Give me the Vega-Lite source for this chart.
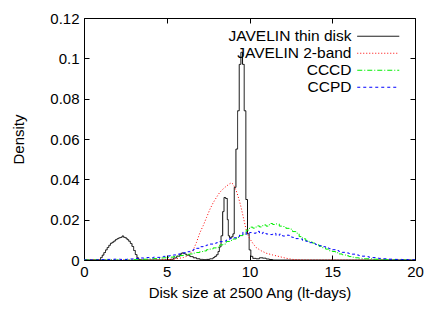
{
"$schema": "https://vega.github.io/schema/vega-lite/v6.json",
"width": 331, "height": 242,
"autosize": {"type": "none"},
"padding": {"left": 84, "top": 18, "right": 28, "bottom": 50},
"background": "white",
"datasets": {
"thin": [
{"s":"JAVELIN thin disk","x":0,"y":0},{"s":"JAVELIN thin disk","x":0.9,"y":0},{"s":"JAVELIN thin disk","x":1.0,"y":0.0012},{"s":"JAVELIN thin disk","x":1.1,"y":0.0024},{"s":"JAVELIN thin disk","x":1.2,"y":0.0037},{"s":"JAVELIN thin disk","x":1.3,"y":0.005},{"s":"JAVELIN thin disk","x":1.4,"y":0.0062},{"s":"JAVELIN thin disk","x":1.5,"y":0.0073},{"s":"JAVELIN thin disk","x":1.6,"y":0.0083},{"s":"JAVELIN thin disk","x":1.7,"y":0.0088},{"s":"JAVELIN thin disk","x":1.8,"y":0.0094},{"s":"JAVELIN thin disk","x":1.9,"y":0.0101},{"s":"JAVELIN thin disk","x":2.0,"y":0.0106},{"s":"JAVELIN thin disk","x":2.1,"y":0.011},{"s":"JAVELIN thin disk","x":2.2,"y":0.0112},{"s":"JAVELIN thin disk","x":2.3,"y":0.0119},{"s":"JAVELIN thin disk","x":2.4,"y":0.0112},{"s":"JAVELIN thin disk","x":2.5,"y":0.0109},{"s":"JAVELIN thin disk","x":2.6,"y":0.0101},{"s":"JAVELIN thin disk","x":2.7,"y":0.0093},{"s":"JAVELIN thin disk","x":2.8,"y":0.0082},{"s":"JAVELIN thin disk","x":2.9,"y":0.0067},{"s":"JAVELIN thin disk","x":3.0,"y":0.0047},{"s":"JAVELIN thin disk","x":3.1,"y":0.0027},{"s":"JAVELIN thin disk","x":3.2,"y":0.0011},{"s":"JAVELIN thin disk","x":3.3,"y":0.0003},{"s":"JAVELIN thin disk","x":3.4,"y":0},{"s":"JAVELIN thin disk","x":5.1,"y":0},{"s":"JAVELIN thin disk","x":5.2,"y":0.0003},{"s":"JAVELIN thin disk","x":5.4,"y":0.001},{"s":"JAVELIN thin disk","x":5.6,"y":0.0019},{"s":"JAVELIN thin disk","x":5.8,"y":0.0029},{"s":"JAVELIN thin disk","x":5.9,"y":0.0035},{"s":"JAVELIN thin disk","x":6.0,"y":0.0033},{"s":"JAVELIN thin disk","x":6.1,"y":0.0029},{"s":"JAVELIN thin disk","x":6.2,"y":0.0024},{"s":"JAVELIN thin disk","x":6.4,"y":0.0017},{"s":"JAVELIN thin disk","x":6.6,"y":0.0011},{"s":"JAVELIN thin disk","x":6.8,"y":0.0006},{"s":"JAVELIN thin disk","x":7.0,"y":0.0003},{"s":"JAVELIN thin disk","x":7.2,"y":0.0002},{"s":"JAVELIN thin disk","x":7.4,"y":0.0003},{"s":"JAVELIN thin disk","x":7.6,"y":0.0006},{"s":"JAVELIN thin disk","x":7.8,"y":0.0012},{"s":"JAVELIN thin disk","x":7.9,"y":0.0018},{"s":"JAVELIN thin disk","x":8.0,"y":0.0026},{"s":"JAVELIN thin disk","x":8.1,"y":0.0042},{"s":"JAVELIN thin disk","x":8.18,"y":0.0065},{"s":"JAVELIN thin disk","x":8.28,"y":0.012},{"s":"JAVELIN thin disk","x":8.38,"y":0.024},{"s":"JAVELIN thin disk","x":8.46,"y":0.031},{"s":"JAVELIN thin disk","x":8.56,"y":0.0305},{"s":"JAVELIN thin disk","x":8.66,"y":0.02},{"s":"JAVELIN thin disk","x":8.72,"y":0.012},{"s":"JAVELIN thin disk","x":8.8,"y":0.011},{"s":"JAVELIN thin disk","x":8.9,"y":0.0115},{"s":"JAVELIN thin disk","x":9.0,"y":0.013},{"s":"JAVELIN thin disk","x":9.08,"y":0.036},{"s":"JAVELIN thin disk","x":9.18,"y":0.055},{"s":"JAVELIN thin disk","x":9.28,"y":0.074},{"s":"JAVELIN thin disk","x":9.38,"y":0.097},{"s":"JAVELIN thin disk","x":9.48,"y":0.103},{"s":"JAVELIN thin disk","x":9.58,"y":0.097},{"s":"JAVELIN thin disk","x":9.68,"y":0.074},{"s":"JAVELIN thin disk","x":9.78,"y":0.03},{"s":"JAVELIN thin disk","x":9.88,"y":0.013},{"s":"JAVELIN thin disk","x":9.98,"y":0.005},{"s":"JAVELIN thin disk","x":10.08,"y":0.0018},{"s":"JAVELIN thin disk","x":10.2,"y":0.0008},{"s":"JAVELIN thin disk","x":10.4,"y":0.0006},{"s":"JAVELIN thin disk","x":10.6,"y":0.0011},{"s":"JAVELIN thin disk","x":10.8,"y":0.0009},{"s":"JAVELIN thin disk","x":11.0,"y":0.0005},{"s":"JAVELIN thin disk","x":11.2,"y":0.0002},{"s":"JAVELIN thin disk","x":11.4,"y":0},{"s":"JAVELIN thin disk","x":20,"y":0}
],
"band": [
{"s":"JAVELIN 2-band","x":0,"y":0},{"s":"JAVELIN 2-band","x":4.5,"y":0},{"s":"JAVELIN 2-band","x":5.0,"y":0.0002},{"s":"JAVELIN 2-band","x":5.5,"y":0.0005},{"s":"JAVELIN 2-band","x":6.0,"y":0.0012},{"s":"JAVELIN 2-band","x":6.3,"y":0.0022},{"s":"JAVELIN 2-band","x":6.6,"y":0.005},{"s":"JAVELIN 2-band","x":6.8,"y":0.0088},{"s":"JAVELIN 2-band","x":7.0,"y":0.0135},{"s":"JAVELIN 2-band","x":7.2,"y":0.017},{"s":"JAVELIN 2-band","x":7.4,"y":0.021},{"s":"JAVELIN 2-band","x":7.6,"y":0.025},{"s":"JAVELIN 2-band","x":7.8,"y":0.0283},{"s":"JAVELIN 2-band","x":8.0,"y":0.031},{"s":"JAVELIN 2-band","x":8.2,"y":0.0335},{"s":"JAVELIN 2-band","x":8.4,"y":0.0352},{"s":"JAVELIN 2-band","x":8.6,"y":0.0366},{"s":"JAVELIN 2-band","x":8.8,"y":0.0378},{"s":"JAVELIN 2-band","x":8.9,"y":0.0383},{"s":"JAVELIN 2-band","x":9.0,"y":0.0377},{"s":"JAVELIN 2-band","x":9.1,"y":0.0362},{"s":"JAVELIN 2-band","x":9.2,"y":0.0343},{"s":"JAVELIN 2-band","x":9.3,"y":0.0318},{"s":"JAVELIN 2-band","x":9.4,"y":0.029},{"s":"JAVELIN 2-band","x":9.5,"y":0.0258},{"s":"JAVELIN 2-band","x":9.6,"y":0.0222},{"s":"JAVELIN 2-band","x":9.7,"y":0.0185},{"s":"JAVELIN 2-band","x":9.8,"y":0.015},{"s":"JAVELIN 2-band","x":9.9,"y":0.0125},{"s":"JAVELIN 2-band","x":10.0,"y":0.0108},{"s":"JAVELIN 2-band","x":10.2,"y":0.0083},{"s":"JAVELIN 2-band","x":10.4,"y":0.0062},{"s":"JAVELIN 2-band","x":10.7,"y":0.0046},{"s":"JAVELIN 2-band","x":11.0,"y":0.0034},{"s":"JAVELIN 2-band","x":11.4,"y":0.0025},{"s":"JAVELIN 2-band","x":11.8,"y":0.0017},{"s":"JAVELIN 2-band","x":12.2,"y":0.0009},{"s":"JAVELIN 2-band","x":12.6,"y":0.0003},{"s":"JAVELIN 2-band","x":13.0,"y":0.0001},{"s":"JAVELIN 2-band","x":13.4,"y":0},{"s":"JAVELIN 2-band","x":20,"y":0}
],
"cccd": [
{"s":"CCCD","x":0,"y":0},{"s":"CCCD","x":2.8,"y":0.0001},{"s":"CCCD","x":3.0,"y":0.0002},{"s":"CCCD","x":3.2,"y":0.0003},{"s":"CCCD","x":3.4,"y":0.0002},{"s":"CCCD","x":3.6,"y":0.0004},{"s":"CCCD","x":3.8,"y":0.0005},{"s":"CCCD","x":4.0,"y":0.0006},{"s":"CCCD","x":4.2,"y":0.0007},{"s":"CCCD","x":4.4,"y":0.0008},{"s":"CCCD","x":4.6,"y":0.001},{"s":"CCCD","x":4.8,"y":0.0011},{"s":"CCCD","x":5.0,"y":0.0013},{"s":"CCCD","x":5.2,"y":0.0014},{"s":"CCCD","x":5.4,"y":0.0017},{"s":"CCCD","x":5.6,"y":0.0019},{"s":"CCCD","x":5.8,"y":0.0022},{"s":"CCCD","x":6.0,"y":0.0024},{"s":"CCCD","x":6.2,"y":0.0028},{"s":"CCCD","x":6.4,"y":0.003},{"s":"CCCD","x":6.6,"y":0.0034},{"s":"CCCD","x":6.8,"y":0.0037},{"s":"CCCD","x":7.0,"y":0.0042},{"s":"CCCD","x":7.2,"y":0.0045},{"s":"CCCD","x":7.4,"y":0.0051},{"s":"CCCD","x":7.6,"y":0.0054},{"s":"CCCD","x":7.8,"y":0.006},{"s":"CCCD","x":8.0,"y":0.0063},{"s":"CCCD","x":8.2,"y":0.0075},{"s":"CCCD","x":8.4,"y":0.0079},{"s":"CCCD","x":8.6,"y":0.0092},{"s":"CCCD","x":8.8,"y":0.0097},{"s":"CCCD","x":9.0,"y":0.0104},{"s":"CCCD","x":9.2,"y":0.0112},{"s":"CCCD","x":9.4,"y":0.0121},{"s":"CCCD","x":9.6,"y":0.0128},{"s":"CCCD","x":9.8,"y":0.0148},{"s":"CCCD","x":10.0,"y":0.0163},{"s":"CCCD","x":10.2,"y":0.0158},{"s":"CCCD","x":10.4,"y":0.0169},{"s":"CCCD","x":10.6,"y":0.0164},{"s":"CCCD","x":10.8,"y":0.0174},{"s":"CCCD","x":11.0,"y":0.0168},{"s":"CCCD","x":11.2,"y":0.0181},{"s":"CCCD","x":11.4,"y":0.0176},{"s":"CCCD","x":11.6,"y":0.0179},{"s":"CCCD","x":11.8,"y":0.0168},{"s":"CCCD","x":12.0,"y":0.0166},{"s":"CCCD","x":12.2,"y":0.0157},{"s":"CCCD","x":12.4,"y":0.0153},{"s":"CCCD","x":12.6,"y":0.0141},{"s":"CCCD","x":12.8,"y":0.0133},{"s":"CCCD","x":13.0,"y":0.0116},{"s":"CCCD","x":13.2,"y":0.0105},{"s":"CCCD","x":13.4,"y":0.0096},{"s":"CCCD","x":13.6,"y":0.0089},{"s":"CCCD","x":13.8,"y":0.0084},{"s":"CCCD","x":14.0,"y":0.0076},{"s":"CCCD","x":14.2,"y":0.0068},{"s":"CCCD","x":14.4,"y":0.0061},{"s":"CCCD","x":14.6,"y":0.0054},{"s":"CCCD","x":14.8,"y":0.0046},{"s":"CCCD","x":15.0,"y":0.0042},{"s":"CCCD","x":15.2,"y":0.0036},{"s":"CCCD","x":15.4,"y":0.003},{"s":"CCCD","x":15.6,"y":0.0026},{"s":"CCCD","x":15.8,"y":0.0021},{"s":"CCCD","x":16.0,"y":0.0017},{"s":"CCCD","x":16.2,"y":0.0014},{"s":"CCCD","x":16.4,"y":0.0011},{"s":"CCCD","x":16.6,"y":0.0009},{"s":"CCCD","x":16.8,"y":0.0007},{"s":"CCCD","x":17.0,"y":0.0006},{"s":"CCCD","x":17.4,"y":0.0004},{"s":"CCCD","x":17.8,"y":0.0003},{"s":"CCCD","x":18.2,"y":0.0002},{"s":"CCCD","x":18.6,"y":0.0001},{"s":"CCCD","x":19.0,"y":0},{"s":"CCCD","x":20,"y":0}
],
"ccpd": [
{"s":"CCPD","x":0,"y":0},{"s":"CCPD","x":0.8,"y":0.0001},{"s":"CCPD","x":1.0,"y":0.0002},{"s":"CCPD","x":1.4,"y":0.0003},{"s":"CCPD","x":1.8,"y":0.0004},{"s":"CCPD","x":2.2,"y":0.0003},{"s":"CCPD","x":2.6,"y":0.0005},{"s":"CCPD","x":3.0,"y":0.0008},{"s":"CCPD","x":3.2,"y":0.0007},{"s":"CCPD","x":3.4,"y":0.001},{"s":"CCPD","x":3.6,"y":0.0009},{"s":"CCPD","x":3.8,"y":0.0012},{"s":"CCPD","x":4.0,"y":0.0011},{"s":"CCPD","x":4.2,"y":0.0014},{"s":"CCPD","x":4.4,"y":0.0013},{"s":"CCPD","x":4.6,"y":0.0016},{"s":"CCPD","x":4.8,"y":0.0018},{"s":"CCPD","x":5.0,"y":0.002},{"s":"CCPD","x":5.2,"y":0.0023},{"s":"CCPD","x":5.4,"y":0.0025},{"s":"CCPD","x":5.6,"y":0.0029},{"s":"CCPD","x":5.8,"y":0.0033},{"s":"CCPD","x":6.0,"y":0.0036},{"s":"CCPD","x":6.2,"y":0.0041},{"s":"CCPD","x":6.4,"y":0.0045},{"s":"CCPD","x":6.6,"y":0.0052},{"s":"CCPD","x":6.8,"y":0.0058},{"s":"CCPD","x":7.0,"y":0.0066},{"s":"CCPD","x":7.2,"y":0.0071},{"s":"CCPD","x":7.4,"y":0.0074},{"s":"CCPD","x":7.6,"y":0.0079},{"s":"CCPD","x":7.8,"y":0.0083},{"s":"CCPD","x":8.0,"y":0.0086},{"s":"CCPD","x":8.2,"y":0.0091},{"s":"CCPD","x":8.4,"y":0.0094},{"s":"CCPD","x":8.6,"y":0.0099},{"s":"CCPD","x":8.8,"y":0.0106},{"s":"CCPD","x":9.0,"y":0.011},{"s":"CCPD","x":9.2,"y":0.0116},{"s":"CCPD","x":9.4,"y":0.0124},{"s":"CCPD","x":9.6,"y":0.0138},{"s":"CCPD","x":9.8,"y":0.0128},{"s":"CCPD","x":10.0,"y":0.0136},{"s":"CCPD","x":10.2,"y":0.0133},{"s":"CCPD","x":10.4,"y":0.0142},{"s":"CCPD","x":10.6,"y":0.0131},{"s":"CCPD","x":10.8,"y":0.0137},{"s":"CCPD","x":11.0,"y":0.0129},{"s":"CCPD","x":11.2,"y":0.0126},{"s":"CCPD","x":11.4,"y":0.0132},{"s":"CCPD","x":11.6,"y":0.0121},{"s":"CCPD","x":11.8,"y":0.0128},{"s":"CCPD","x":12.0,"y":0.0119},{"s":"CCPD","x":12.2,"y":0.0123},{"s":"CCPD","x":12.4,"y":0.0114},{"s":"CCPD","x":12.6,"y":0.0112},{"s":"CCPD","x":12.8,"y":0.0106},{"s":"CCPD","x":13.0,"y":0.0104},{"s":"CCPD","x":13.2,"y":0.0096},{"s":"CCPD","x":13.4,"y":0.0093},{"s":"CCPD","x":13.6,"y":0.0086},{"s":"CCPD","x":13.8,"y":0.0081},{"s":"CCPD","x":14.0,"y":0.0077},{"s":"CCPD","x":14.2,"y":0.0071},{"s":"CCPD","x":14.4,"y":0.0066},{"s":"CCPD","x":14.6,"y":0.006},{"s":"CCPD","x":14.8,"y":0.0056},{"s":"CCPD","x":15.0,"y":0.0051},{"s":"CCPD","x":15.2,"y":0.0047},{"s":"CCPD","x":15.4,"y":0.0042},{"s":"CCPD","x":15.6,"y":0.0038},{"s":"CCPD","x":15.8,"y":0.0035},{"s":"CCPD","x":16.0,"y":0.0032},{"s":"CCPD","x":16.2,"y":0.0029},{"s":"CCPD","x":16.4,"y":0.0025},{"s":"CCPD","x":16.6,"y":0.0022},{"s":"CCPD","x":16.8,"y":0.0019},{"s":"CCPD","x":17.0,"y":0.0017},{"s":"CCPD","x":17.2,"y":0.0014},{"s":"CCPD","x":17.4,"y":0.0012},{"s":"CCPD","x":17.6,"y":0.001},{"s":"CCPD","x":17.8,"y":0.0008},{"s":"CCPD","x":18.0,"y":0.0006},{"s":"CCPD","x":18.4,"y":0.0004},{"s":"CCPD","x":18.8,"y":0.0003},{"s":"CCPD","x":19.2,"y":0.0002},{"s":"CCPD","x":19.6,"y":0.0001},{"s":"CCPD","x":20,"y":0}
]
},
"layer": [
{
"data": {"name": "thin"},
"mark": {"type": "line", "interpolate": "step-after", "strokeWidth": 1, "clip": true},
"encoding": {
"x": {"field": "x", "type": "quantitative", "scale": {"domain": [0, 20], "nice": false}, "axis": {"orient": "bottom", "values": [0,5,10,15,20], "title": "Disk size at 2500 Ang (lt-days)", "labelPadding": 9, "titlePadding": 6}},
"y": {"field": "y", "type": "quantitative", "scale": {"domain": [0, 0.12], "nice": false}, "axis": {"orient": "left", "values": [0,0.02,0.04,0.06,0.08,0.1,0.12], "format": ".2~f", "title": "Density", "labelPadding": 10, "titlePadding": 23}},
"color": {"field": "s", "type": "nominal", "title": null, "scale": {"domain": ["JAVELIN thin disk","JAVELIN 2-band","CCCD","CCPD"], "range": ["#000000","#ff0000","#00ee00","#0000ff"]}},
"strokeDash": {"field": "s", "type": "nominal", "title": null, "scale": {"domain": ["JAVELIN thin disk","JAVELIN 2-band","CCCD","CCPD"], "range": [[1,0],[1,2],[5,2,1,2],[3,3]]}}
}
},
{
"data": {"name": "band"},
"mark": {"type": "line", "strokeWidth": 1, "clip": true},
"encoding": {
"x": {"field": "x", "type": "quantitative", "scale": {"domain": [0, 20], "nice": false}, "axis": {"orient": "top", "values": [0,5,10,15,20], "labels": false, "title": null}},
"y": {"field": "y", "type": "quantitative", "scale": {"domain": [0, 0.12], "nice": false}, "axis": {"orient": "right", "values": [0,0.02,0.04,0.06,0.08,0.1,0.12], "labels": false, "title": null}},
"color": {"field": "s", "type": "nominal", "title": null},
"strokeDash": {"field": "s", "type": "nominal", "title": null}
}
},
{
"data": {"name": "cccd"},
"mark": {"type": "line", "interpolate": "step-after", "strokeWidth": 1, "clip": true},
"encoding": {
"x": {"field": "x", "type": "quantitative", "scale": {"domain": [0, 20], "nice": false}, "axis": null},
"y": {"field": "y", "type": "quantitative", "scale": {"domain": [0, 0.12], "nice": false}, "axis": null},
"color": {"field": "s", "type": "nominal", "title": null},
"strokeDash": {"field": "s", "type": "nominal", "title": null}
}
},
{
"data": {"name": "ccpd"},
"mark": {"type": "line", "interpolate": "step-after", "strokeWidth": 1, "clip": true},
"encoding": {
"x": {"field": "x", "type": "quantitative", "scale": {"domain": [0, 20], "nice": false}, "axis": null},
"y": {"field": "y", "type": "quantitative", "scale": {"domain": [0, 0.12], "nice": false}, "axis": null},
"color": {"field": "s", "type": "nominal", "title": null},
"strokeDash": {"field": "s", "type": "nominal", "title": null}
}
}
],
"resolve": {"axis": {"x": "independent", "y": "independent"}},
"config": {
"font": "Liberation Sans",
"view": {"stroke": "black", "strokeWidth": 1},
"axis": {"grid": false, "domain": false, "ticks": true, "tickSize": -5, "tickColor": "black", "tickWidth": 1, "labelFlush": false, "labelFontSize": 15, "labelColor": "black", "labelFont": "Liberation Sans", "titleFontSize": 15, "titleFont": "Liberation Sans", "titleFontWeight": "normal", "titleColor": "black"},
"legend": {"orient": "none", "legendX": 286.5, "legendY": 10.5, "symbolType": "M-4.2,0H4.2", "symbolSize": 100, "symbolStrokeWidth": 1, "labelAlign": "right", "labelOffset": -34.5, "labelFontSize": 15.5, "labelFont": "Liberation Sans", "labelColor": "black", "rowPadding": -2, "padding": 0}
}
}
